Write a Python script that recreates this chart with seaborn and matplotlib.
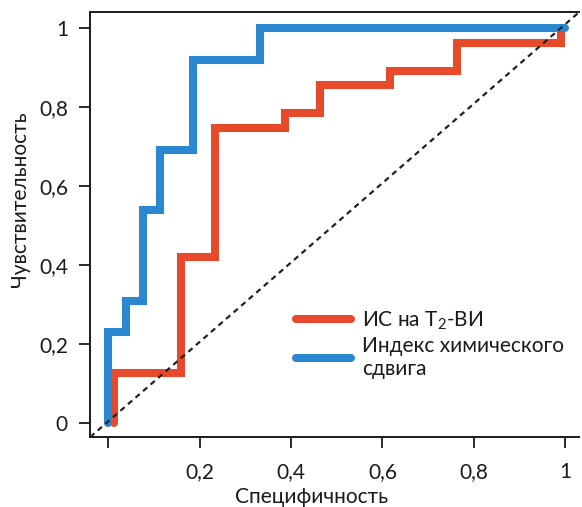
import numpy as np
import pandas as pd
import matplotlib

matplotlib.use('Agg')
import matplotlib.pyplot as plt
import seaborn as sns

# ROC points
label_t2 = 'ИС на T$_2$-ВИ'
label_csi = 'Индекс химического\nсдвига'

fpr_t2 = [0.012, 0.012, 0.16, 0.16, 0.233, 0.233, 0.386, 0.386, 0.463, 0.463,
          0.616, 0.616, 0.764, 0.764, 0.99, 0.99]
tpr_t2 = [0.0, 0.127, 0.127, 0.42, 0.42, 0.747, 0.747, 0.785, 0.785, 0.856,
          0.856, 0.89, 0.89, 0.962, 0.962, 1.0]

fpr_csi = [0.0, 0.0, 0.04, 0.04, 0.077, 0.077, 0.114, 0.114, 0.186, 0.186,
           0.332, 0.332, 1.0]
tpr_csi = [0.0, 0.23, 0.23, 0.31, 0.31, 0.54, 0.54, 0.69, 0.69, 0.92,
           0.92, 1.0, 1.0]

ticks = [0, 0.2, 0.4, 0.6, 0.8, 1]
y_tick_labels = ['0', '0,2', '0,4', '0,6', '0,8', '1']
x_tick_labels = ['', '0,2', '0,4', '0,6', '0,8', '1']

colors = {label_t2: '#e64a2a', label_csi: '#2b87cf'}

df = pd.concat([
    pd.DataFrame({'fpr': fpr_t2, 'tpr': tpr_t2, 'curve': label_t2}),
    pd.DataFrame({'fpr': fpr_csi, 'tpr': tpr_csi, 'curve': label_csi}),
])

sns.set_style("ticks")
plt.rcParams['font.family'] = ['Lato', 'DejaVu Sans']
plt.rcParams['mathtext.fontset'] = 'custom'
plt.rcParams['mathtext.rm'] = 'Lato'
plt.rcParams['mathtext.it'] = 'Lato:italic'
txt = '#1a1a1a'
plt.rcParams['text.color'] = txt
plt.rcParams['axes.labelcolor'] = txt
plt.rcParams['xtick.color'] = txt
plt.rcParams['ytick.color'] = txt
plt.rcParams['axes.edgecolor'] = txt

fig = plt.figure(figsize=[5.82, 5.07], dpi=100)
ax = fig.add_axes([0.155, 0.138, 0.84, 0.838])

sns.lineplot(data=df, x='fpr', y='tpr', hue='curve', palette=colors, sort=False,
             estimator=None, lw=5.8, ax=ax, solid_joinstyle='miter')

# chance line, corner to corner
ax.plot([0, 1], [0, 1], transform=ax.transAxes, color='#222222', lw=1.6,
        linestyle=(0, (2.5, 2)), zorder=5)

ax.set_xlim(-0.039, 1.03)
ax.set_ylim(-0.035, 1.04)
ax.set_xticks(ticks)
ax.set_xticklabels(x_tick_labels, fontsize=15)
ax.set_yticks(ticks)
ax.set_yticklabels(y_tick_labels, fontsize=15)
ax.tick_params(direction='out', length=8, width=1.3)
ax.tick_params(axis='x', pad=10)
ax.tick_params(axis='y', pad=8)
for side in ['left', 'bottom', 'top']:
    ax.spines[side].set_linewidth(1.4)
ax.spines['right'].set_visible(False)

ax.set_xlabel('Специфичность', fontsize=15, va='center')
ax.xaxis.set_label_coords(0.453, -0.141)
ax.set_ylabel('Чувствительность', fontsize=15, va='center')
ax.yaxis.set_label_coords(-0.143, 0.56)

leg = ax.legend(loc='upper left', bbox_to_anchor=(0.42, 0.30), frameon=False,
                fontsize=15, handlelength=2.65, handletextpad=0.55,
                labelspacing=0.2, borderaxespad=0, borderpad=0)
for h in leg.get_lines():
    h.set_linewidth(5.8)
    h.set_solid_capstyle('round')

fig.savefig('out.png', dpi=100)
